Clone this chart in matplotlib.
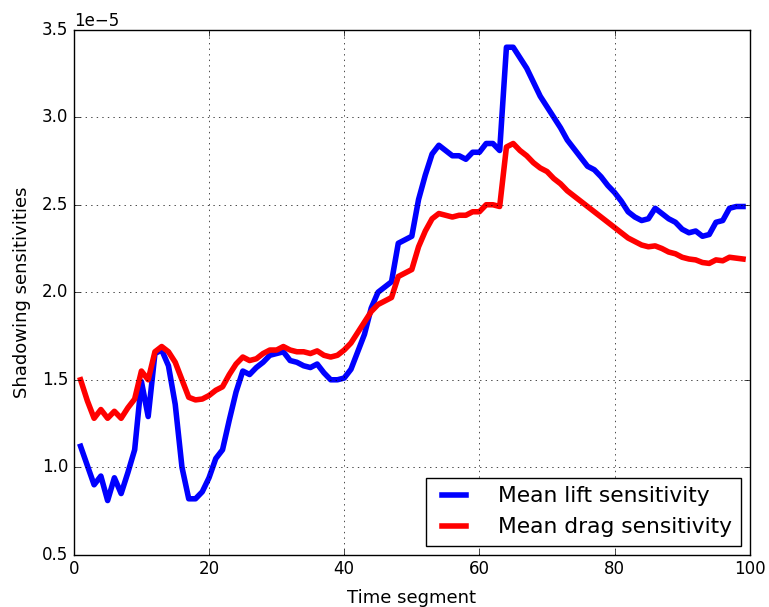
import numpy as np
import matplotlib
matplotlib.use("Agg")
import matplotlib.pyplot as plt

plt.style.use("classic")

# time segments and mean sensitivities (in units of 1e-5)
segments = np.arange(1, 100)

lift = [1.12, 1.01, 0.90, 0.95, 0.81, 0.94, 0.85, 0.97, 1.10, 1.49,
        1.29, 1.65, 1.67, 1.58, 1.36, 1.00, 0.82, 0.82, 0.86, 0.94,
        1.05, 1.10, 1.27, 1.43, 1.55, 1.53, 1.57, 1.60, 1.64, 1.65,
        1.66, 1.61, 1.60, 1.58, 1.57, 1.59, 1.54, 1.50, 1.50, 1.51,
        1.56, 1.66, 1.76, 1.91, 2.00, 2.03, 2.06, 2.28, 2.30, 2.32,
        2.53, 2.67, 2.79, 2.84, 2.81, 2.78, 2.78, 2.76, 2.80, 2.80,
        2.85, 2.85, 2.81, 3.40, 3.40, 3.34, 3.28, 3.20, 3.12, 3.06,
        3.00, 2.94, 2.87, 2.82, 2.77, 2.72, 2.70, 2.66, 2.61, 2.57,
        2.52, 2.46, 2.43, 2.41, 2.42, 2.48, 2.45, 2.42, 2.40, 2.36,
        2.34, 2.35, 2.32, 2.33, 2.40, 2.41, 2.48, 2.49, 2.49]

drag = [1.50, 1.38, 1.28, 1.33, 1.28, 1.32, 1.28, 1.34, 1.39, 1.55,
        1.50, 1.66, 1.69, 1.66, 1.60, 1.50, 1.40, 1.385, 1.39, 1.41,
        1.44, 1.46, 1.53, 1.59, 1.63, 1.61, 1.62, 1.65, 1.67, 1.67,
        1.69, 1.67, 1.66, 1.66, 1.65, 1.665, 1.64, 1.63, 1.64, 1.67,
        1.71, 1.77, 1.83, 1.89, 1.93, 1.95, 1.97, 2.09, 2.11, 2.13,
        2.26, 2.35, 2.42, 2.45, 2.44, 2.43, 2.44, 2.44, 2.46, 2.46,
        2.50, 2.50, 2.49, 2.83, 2.85, 2.81, 2.78, 2.74, 2.71, 2.69,
        2.65, 2.62, 2.58, 2.55, 2.52, 2.49, 2.46, 2.43, 2.40, 2.37,
        2.34, 2.31, 2.29, 2.27, 2.26, 2.265, 2.25, 2.23, 2.22, 2.20,
        2.19, 2.185, 2.17, 2.165, 2.185, 2.18, 2.20, 2.195, 2.19]

lift = np.array(lift) * 1e-5
drag = np.array(drag) * 1e-5

fig = plt.figure(figsize=(7.69, 6.07), dpi=100, facecolor="white")
ax = fig.add_axes([0.096, 0.086, 0.879, 0.865])

ax.plot(segments, lift, color="b", lw=4, label="Mean lift sensitivity")
ax.plot(segments, drag, color="r", lw=4, label="Mean drag sensitivity")

ax.set_xlim(0, 100)
ax.set_ylim(0.5e-5, 3.5e-5)
ax.ticklabel_format(axis="y", style="sci", scilimits=(0, 0))
ax.grid(True)
ax.set_xlabel("Time segment", fontsize=13, labelpad=8)
ax.set_ylabel("Shadowing sensitivities", fontsize=13, labelpad=8)
ax.legend(loc="lower right", fontsize=15.7, handlelength=1.7,
          handletextpad=1.2, borderaxespad=0.4)

fig.savefig("out.png", dpi=100, facecolor="white")
